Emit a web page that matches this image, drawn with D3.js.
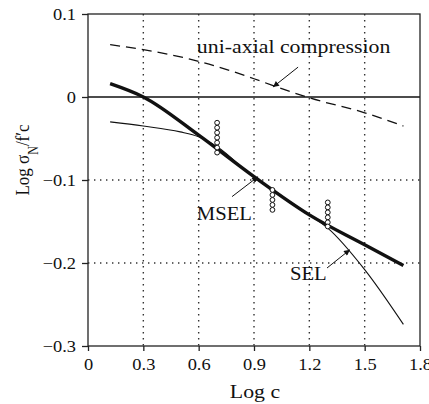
<!DOCTYPE html>
<html><head><meta charset="utf-8">
<script src="https://cdn.jsdelivr.net/npm/d3@7"></script>
<style>
html,body{margin:0;padding:0;background:#fff;}
svg{display:block;font-family:"Liberation Serif","Times New Roman",serif;}
</style></head>
<body>
<div id="chart"></div>
<script>
// ---- data ----
const xTicks = [0, 0.3, 0.6, 0.9, 1.2, 1.5, 1.8];
const xTickLabels = ["0", "0.3", "0.6", "0.9", "1.2", "1.5", "1.8"];
const yTicks = [0.1, 0, -0.1, -0.2, -0.3];
const yTickLabels = ["0.1", "0", "\u22120.1", "\u22120.2", "\u22120.3"];
const xGrid = [0.3, 0.6, 0.9, 1.2, 1.5];
const yGrid = [-0.1, -0.2];

// uni-axial compression (dashed)
const uniX = [0.12, 0.3, 0.6, 0.9, 1.0, 1.2, 1.5, 1.71];
const uniY = [0.063, 0.057, 0.043, 0.022, 0.014, -0.001, -0.019, -0.035];
// MSEL (thick)
const mselX = [0.12, 0.3, 0.6, 0.9, 1.2, 1.5, 1.71];
const mselY = [0.016, 0.0, -0.046, -0.096, -0.142, -0.178, -0.203];
// SEL (thin)
const selX = [0.12, 0.3, 0.5, 0.6, 0.7, 0.9, 1.0, 1.2, 1.3, 1.5, 1.71];
const selY = [-0.030, -0.035, -0.042, -0.048, -0.060, -0.097, -0.112, -0.142, -0.158, -0.208, -0.274];
// test data (small circles)
const testX = [0.7, 0.7, 0.7, 0.7, 0.7, 0.7, 0.7, 1.0, 1.0, 1.0, 1.0, 1.0, 1.3, 1.3, 1.3, 1.3, 1.3, 1.3];
const testY = [-0.031, -0.037, -0.043, -0.049, -0.055, -0.061, -0.067,
               -0.112, -0.118, -0.124, -0.130, -0.136,
               -0.127, -0.133, -0.139, -0.145, -0.151, -0.156];

// annotations (data units)
const labels = [
  {text: "uni-axial compression", x: 0.59, y: 0.053, size: 19},
  {text: "MSEL", x: 0.59, y: -0.148, size: 18},
  {text: "SEL", x: 1.095, y: -0.220, size: 18}
];
const leaders = [
  {x1: 1.139, y1: 0.036, x2: 1.003, y2: 0.012},
  {x1: 0.781, y1: -0.120, x2: 0.922, y2: -0.096},
  {x1: 1.296, y1: -0.206, x2: 1.42, y2: -0.184}
];

// ---- drawing ----
const W = 429, H = 404;
const L = 88, R = 420, T = 14, B = 346;
const SX = 1.15; // horizontal text stretch
const svg = d3.select("#chart").append("svg").attr("width", W).attr("height", H);
const x = d3.scaleLinear().domain([0, 1.8]).range([L, R]);
const y = d3.scaleLinear().domain([-0.3, 0.1]).range([B, T]);
const ink = "#111";

const defs = svg.append("defs");
defs.append("marker").attr("id", "arr").attr("viewBox", "0 0 10 10")
  .attr("refX", 10).attr("refY", 5).attr("markerWidth", 9).attr("markerHeight", 6)
  .attr("markerUnits", "userSpaceOnUse").attr("orient", "auto")
  .append("path").attr("d", "M0,0L10,5L0,10z").attr("fill", ink);

// grid
svg.append("g").selectAll("line").data(xGrid).join("line")
  .attr("x1", d => x(d)).attr("x2", d => x(d)).attr("y1", T).attr("y2", B)
  .attr("stroke", "#333").attr("stroke-width", 1.4).attr("stroke-dasharray", "1.4,4.6");
svg.append("g").selectAll("line").data(yGrid).join("line")
  .attr("x1", L).attr("x2", R).attr("y1", d => y(d)).attr("y2", d => y(d))
  .attr("stroke", "#333").attr("stroke-width", 1.4).attr("stroke-dasharray", "1.4,4.6");

// zero line, frame
svg.append("line").attr("x1", L).attr("x2", R).attr("y1", y(0)).attr("y2", y(0))
  .attr("stroke", ink).attr("stroke-width", 1.3);
svg.append("rect").attr("x", L).attr("y", T).attr("width", R - L).attr("height", B - T)
  .attr("fill", "none").attr("stroke", "#222").attr("stroke-width", 1.3);

// axes
const xAxis = d3.axisBottom(x).tickValues(xTicks).tickSize(5).tickFormat((d, i) => xTickLabels[i]);
const gx = svg.append("g").attr("transform", `translate(0,${B})`).call(xAxis);
gx.select(".domain").remove();
gx.selectAll(".tick line").attr("stroke", "#222").attr("stroke-width", 1.3);
gx.selectAll(".tick text").attr("font-size", 16).attr("fill", ink)
  .attr("font-family", "Liberation Serif, serif")
  .attr("y", 0).attr("dy", 0)
  .attr("transform", d => `translate(0,24) scale(${SX},1)`)
  .attr("x", 0);

const yAxis = d3.axisLeft(y).tickValues(yTicks).tickSize(6).tickFormat((d, i) => yTickLabels[i]);
const gy = svg.append("g").attr("transform", `translate(${L},0)`).call(yAxis);
gy.select(".domain").remove();
gy.selectAll(".tick line").attr("stroke", "#222").attr("stroke-width", 1.3);
gy.selectAll(".tick text").attr("font-size", 16).attr("fill", ink)
  .attr("font-family", "Liberation Serif, serif")
  .attr("x", 0).attr("dy", "0.33em")
  .attr("transform", `translate(-12,0) scale(${SX},1)`);

// curves
const line = d3.line().x(d => x(d[0])).y(d => y(d[1])).curve(d3.curveMonotoneX);
svg.append("path").datum(uniX.map((v, i) => [v, uniY[i]])).attr("d", line)
  .attr("fill", "none").attr("stroke", ink).attr("stroke-width", 1.3).attr("stroke-dasharray", "10,6");
svg.append("path").datum(selX.map((v, i) => [v, selY[i]])).attr("d", line)
  .attr("fill", "none").attr("stroke", ink).attr("stroke-width", 1.1);
svg.append("path").datum(mselX.map((v, i) => [v, mselY[i]])).attr("d", line)
  .attr("fill", "none").attr("stroke", ink).attr("stroke-width", 3.4);

// test points
svg.append("g").selectAll("circle").data(testX.map((v, i) => [v, testY[i]])).join("circle")
  .attr("cx", d => x(d[0])).attr("cy", d => y(d[1])).attr("r", 2.4)
  .attr("fill", "#fff").attr("stroke", ink).attr("stroke-width", 1);

// leaders
svg.append("g").selectAll("line").data(leaders).join("line")
  .attr("x1", d => x(d.x1)).attr("y1", d => y(d.y1)).attr("x2", d => x(d.x2)).attr("y2", d => y(d.y2))
  .attr("stroke", ink).attr("stroke-width", 1).attr("marker-end", "url(#arr)");

// labels
svg.append("g").selectAll("text").data(labels).join("text")
  .attr("transform", d => `translate(${x(d.x)},${y(d.y)}) scale(${SX},1)`)
  .attr("font-size", d => d.size).attr("fill", ink).text(d => d.text);

// axis titles
svg.append("text").attr("transform", `translate(${(L + R) / 2 + 1},398) scale(${SX},1)`)
  .attr("text-anchor", "middle").attr("font-size", 19).attr("fill", ink).text("Log c");

const yt = svg.append("text").attr("transform", `translate(29,160) rotate(-90) scale(1,${SX})`)
  .attr("text-anchor", "middle").attr("font-size", 17).attr("fill", ink);
yt.append("tspan").text("Log \u03c3");
yt.append("tspan").attr("font-size", 12).attr("baseline-shift", "sub").text("N");
yt.append("tspan").text("/f\u2032c");
</script>
</body></html>
